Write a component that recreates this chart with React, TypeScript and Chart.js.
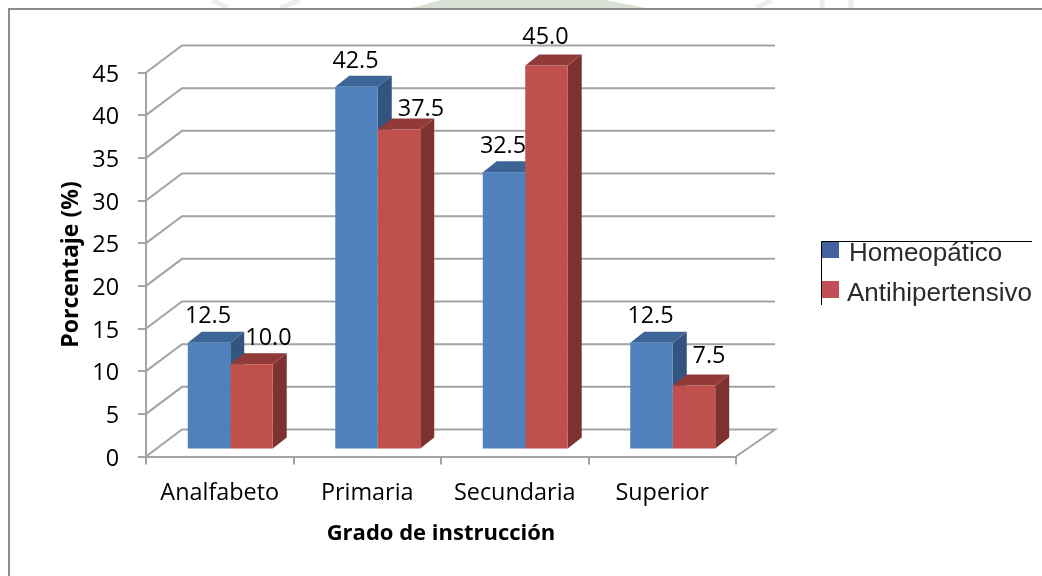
import React, { useEffect, useRef } from "react";
import { Chart, registerables } from "chart.js";

Chart.register(...registerables);

const categories = ["Analfabeto", "Primaria", "Secundaria", "Superior"];
const homeopatico = [12.5, 42.5, 32.5, 12.5];
const antihipertensivo = [10.0, 37.5, 45.0, 7.5];
const seriesNames = ["Homeopático", "Antihipertensivo"];
const yTicks = [0, 5, 10, 15, 20, 25, 30, 35, 40, 45];

const FRONT = ["#4f81bd", "#c0504d"];
const TOP = ["#3c6494", "#913a38"];
const SIDE = ["#33547f", "#7d3230"];
const LEGEND = ["#44619f", "#c34e58"];
const labelNudge = [
  [[-1, -26], [-1, -25], [-1, -26], [-1, -26]],
  [[17, -26], [22, -20], [-1, -28], [15, -29]],
];

const WALL = { dx: 36, dy: -27 };
const BAR = { dx: 10.5, dy: -7, depthX: 14, depthY: -11 };
const GRID = "#a3a3a3";
const TEXT_FONT = "'Open Sans'";
const TEXT_SIZE = 23.4;

function drawBackdrop(ctx: any) {
  ctx.save();
  ctx.beginPath();
  ctx.rect(0, 0, 1042, 8);
  ctx.clip();
  ctx.fillStyle = "#d9e0d5";
  ctx.beginPath();
  ctx.moveTo(441, 0);
  ctx.lineTo(605, 0);
  ctx.lineTo(646, 8);
  ctx.lineTo(412, 8);
  ctx.closePath();
  ctx.fill();
  ctx.strokeStyle = "#ececec";
  ctx.lineWidth = 5;
  for (const [a, b] of [[212, 228], [300, 280], [772, 756], [822, 822], [851, 851]]) {
    ctx.beginPath();
    ctx.moveTo(a, 0);
    ctx.lineTo(b, 8);
    ctx.stroke();
  }
  ctx.restore();
}

const depthPlugin = {
  id: "depth",
  beforeDraw(chart: any) {
    drawBackdrop(chart.ctx);
  },
  beforeDatasetsDraw(chart: any) {
    const { ctx, scales } = chart;
    const { x, y } = scales;
    ctx.save();
    ctx.strokeStyle = GRID;
    ctx.lineWidth = 2;
    for (const v of yTicks) {
      const py = y.getPixelForValue(v);
      ctx.beginPath();
      ctx.moveTo(x.left, py);
      ctx.lineTo(x.left + WALL.dx, py + WALL.dy);
      ctx.lineTo(x.right + WALL.dx + 3, py + WALL.dy);
      if (v === 0) ctx.lineTo(x.right, py);
      ctx.stroke();
    }
    ctx.restore();

    // top and side faces: the first series first, so the second one covers it
    ctx.save();
    ctx.translate(BAR.dx, BAR.dy);
    chart.data.datasets.forEach((_: any, i: number) => {
      for (const el of chart.getDatasetMeta(i).data) {
        const { x: bx, y: by, width, base } = el.getProps(["x", "y", "width", "base"], true);
        const l = bx - width / 2;
        const r = bx + width / 2;
        ctx.fillStyle = SIDE[i];
        ctx.beginPath();
        ctx.moveTo(r, by);
        ctx.lineTo(r + BAR.depthX, by + BAR.depthY);
        ctx.lineTo(r + BAR.depthX, base + BAR.depthY);
        ctx.lineTo(r, base);
        ctx.closePath();
        ctx.fill();
        ctx.fillStyle = TOP[i];
        ctx.beginPath();
        ctx.moveTo(l, by);
        ctx.lineTo(l + BAR.depthX, by + BAR.depthY);
        ctx.lineTo(r + BAR.depthX, by + BAR.depthY);
        ctx.lineTo(r, by);
        ctx.closePath();
        ctx.fill();
      }
    });
    ctx.restore();
  },
  beforeDatasetDraw(chart: any) {
    chart.ctx.save();
    chart.ctx.translate(BAR.dx, BAR.dy);
  },
  afterDatasetDraw(chart: any) {
    chart.ctx.restore();
  },
  afterDatasetsDraw(chart: any) {
    const { ctx } = chart;
    ctx.save();
    ctx.font = `${TEXT_SIZE}px ${TEXT_FONT}`;
    ctx.fillStyle = "#000";
    ctx.textAlign = "center";
    ctx.textBaseline = "middle";
    chart.data.datasets.forEach((ds: any, d: number) => {
      chart.getDatasetMeta(d).data.forEach((el: any, k: number) => {
        const [nx, ny] = labelNudge[d][k];
        ctx.fillText(ds.data[k].toFixed(1), el.x + BAR.dx + nx, el.y + BAR.dy + ny);
      });
    });
    ctx.restore();
  },
  afterDraw(chart: any) {
    const { ctx } = chart;
    ctx.save();
    // outer frame: only the top and left edges are visible
    ctx.strokeStyle = "#8c8c8c";
    ctx.lineWidth = 2;
    ctx.beginPath();
    ctx.moveTo(9, 576);
    ctx.lineTo(9, 9);
    ctx.lineTo(1042, 9);
    ctx.stroke();
    // legend
    ctx.strokeStyle = "#000";
    ctx.lineWidth = 1;
    ctx.beginPath();
    ctx.moveTo(821.5, 305);
    ctx.lineTo(821.5, 241.5);
    ctx.lineTo(1032, 241.5);
    ctx.stroke();
    ctx.font = "26px 'Liberation Sans'";
    ctx.textAlign = "left";
    ctx.textBaseline = "middle";
    chart.data.datasets.forEach((ds: any, d: number) => {
      const cy = 254 + d * 40;
      ctx.fillStyle = LEGEND[d];
      ctx.fillRect(822, d === 0 ? 242 : 281, 17, d === 0 ? 16 : 17);
      ctx.fillStyle = "#2b2b2b";
      ctx.fillText(ds.label, d === 0 ? 849 : 847, cy);
    });
    ctx.restore();
  },
};

export default function App() {
  const ref = useRef<HTMLCanvasElement>(null);
  useEffect(() => {
    const chart = new Chart(ref.current as HTMLCanvasElement, {
      type: "bar",
      data: {
        labels: categories,
        datasets: [
          { label: seriesNames[0], data: homeopatico, backgroundColor: FRONT[0] },
          { label: seriesNames[1], data: antihipertensivo, backgroundColor: FRONT[1] },
        ],
      },
      options: {
        responsive: false,
        animation: false,
        layout: { padding: { left: 46, right: 306, top: 72.5, bottom: 29.5 } },
        datasets: { bar: { barPercentage: 1, categoryPercentage: 0.576, clip: false } },
        plugins: { legend: { display: false }, tooltip: { enabled: false } },
        scales: {
          x: {
            afterFit(s: any) {
              s.height = 90;
            },
            border: { color: GRID, width: 2 },
            grid: { drawOnChartArea: false, color: GRID, lineWidth: 2, tickLength: 8, offset: true },
            ticks: { color: "#000", font: { family: TEXT_FONT, size: TEXT_SIZE }, padding: 15, maxRotation: 0 },
            title: {
              display: true,
              text: "Grado de instrucción",
              color: "#000",
              font: { family: TEXT_FONT, size: 22, weight: "bold" },
              padding: { top: 0, bottom: 0 },
            },
          },
          y: {
            min: 0,
            max: 45,
            afterFit(s: any) {
              s.width = 100;
            },
            border: { color: GRID, width: 2 },
            grid: { drawOnChartArea: false, color: GRID, lineWidth: 2, tickLength: 8 },
            ticks: {
              stepSize: 5,
              color: "#000",
              font: { family: TEXT_FONT, size: TEXT_SIZE },
              padding: 19,
              labelOffset: 2.5,
            },
            title: {
              display: true,
              text: "Porcentaje (%)",
              color: "#000",
              font: { family: TEXT_FONT, size: 23, weight: "bold" },
              padding: { top: 12, bottom: 0 },
            },
          },
        },
      },
      plugins: [depthPlugin],
    } as any);
    return () => chart.destroy();
  }, []);
  return (
    <div style={{ position: "absolute", left: 0, top: 0 }}>
      <canvas ref={ref} width={1042} height={576} style={{ display: "block" }} />
    </div>
  );
}
